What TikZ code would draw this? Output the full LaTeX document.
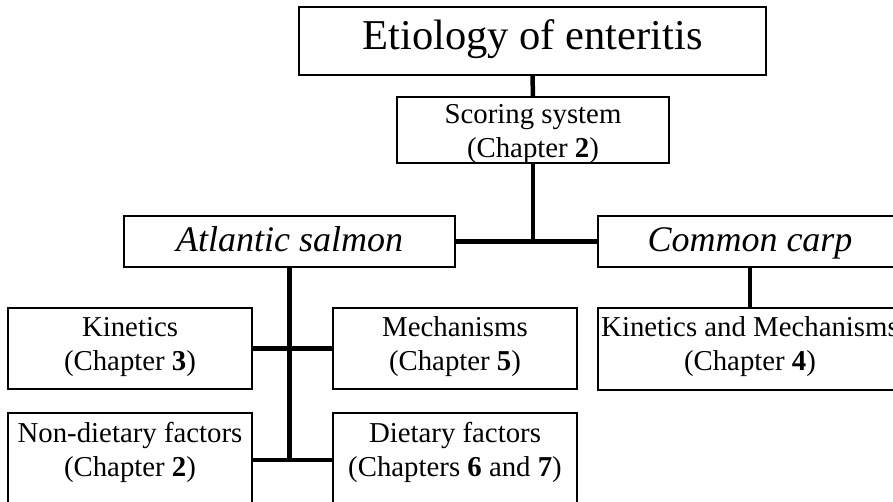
\documentclass[tikz,border=0pt]{standalone}
\usepackage{fontspec}
\setmainfont{Liberation Serif}
\newcommand{\twoln}[2]{\begin{tabular}[t]{@{}c@{}}#1\\#2\end{tabular}}
\tikzset{
  box/.style={draw, line width=1.3pt, inner sep=0pt, outer sep=0pt, fill=white},
  body/.style={font=\fontsize{28.8}{34}\selectfont},
  conn/.style={line width=4.5pt}
}
\begin{document}
\begin{tikzpicture}[x=1pt,y=-1pt]
\useasboundingbox (0,0) rectangle (893,502);
\clip (0,0) rectangle (893,502);
% top
\node[box, font=\fontsize{42.5}{50}\selectfont, minimum width=467pt, minimum height=68pt,
      text height=43pt, text depth=25pt] (title) at (532.5,41) {Etiology of enteritis};
\node[box, body, minimum width=272pt, minimum height=66pt,
      text height=27pt, text depth=39pt] (score) at (533,130) {\twoln{Scoring system}{(Chapter \textbf{2})}};
% species
\node[box, font=\fontsize{36}{42}\selectfont\itshape, minimum width=331pt, minimum height=51pt,
      text height=36pt, text depth=15pt] (salmon) at (289.5,241.5) {Atlantic salmon};
\node[box, font=\fontsize{36}{42}\selectfont\itshape, minimum width=304pt, minimum height=51pt,
      text height=36pt, text depth=15pt] (carp) at (750,241.5) {Common carp};
% chapters
\node[box, body, minimum width=244pt, minimum height=81pt,
      text height=28pt, text depth=53pt] (kin) at (130,348.5) {\twoln{Kinetics}{(Chapter \textbf{3})}};
\node[box, body, minimum width=244pt, minimum height=81pt,
      text height=28pt, text depth=53pt] (mech) at (455,348.5) {\twoln{Mechanisms}{(Chapter \textbf{5})}};
\node[box, body, minimum width=304pt, minimum height=82pt,
      text height=28pt, text depth=54pt] (km) at (750,349) {\twoln{Kinetics and Mechanisms}{(Chapter \textbf{4})}};
\node[box, body, minimum width=244pt, minimum height=94pt,
      text height=29pt, text depth=65pt] (nondiet) at (130,460) {\twoln{Non-dietary factors}{(Chapter \textbf{2})}};
\node[box, body, minimum width=244pt, minimum height=94pt,
      text height=29pt, text depth=65pt] (diet) at (455,460) {\twoln{Dietary factors}{(Chapters \textbf{6} and \textbf{7})}};
% connectors
\coordinate (join) at (score.south |- salmon.east);
\coordinate (sbot) at (salmon.south |- nondiet.east);
\draw[conn] (title.south) -- (score.north);
\draw[conn] (score.south) -- ([yshift=-2pt]join);
\draw[conn] (salmon.east) -- (carp.west);
\draw[conn] (carp.south) -- (km.north);
\draw[conn] (salmon.south) -- ([yshift=-2pt]sbot);
\draw[conn] (kin.east) -- (mech.west);
\draw[conn] (nondiet.east) -- (diet.west);
\end{tikzpicture}
\end{document}
